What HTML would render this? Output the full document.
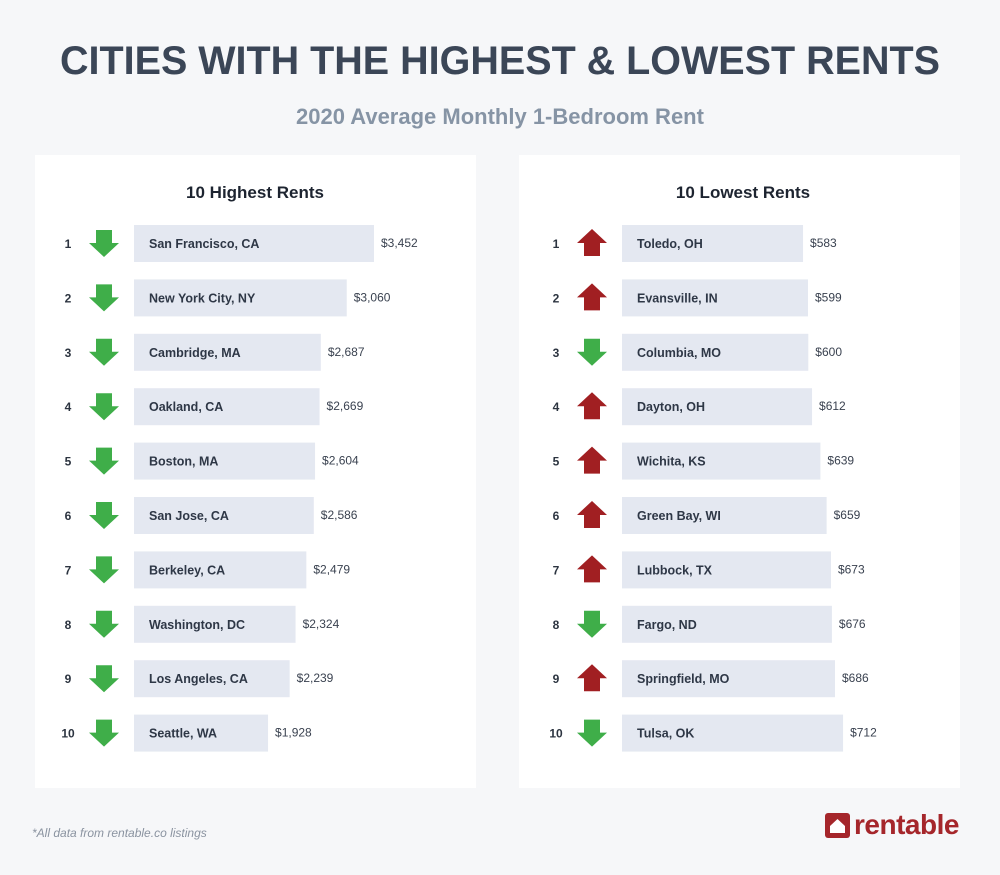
<!DOCTYPE html>
<html><head><meta charset="utf-8"><style>
body{margin:0;width:1000px;height:875px;background:#f6f7f9;font-family:"Liberation Sans",Arial,sans-serif;position:relative;overflow:hidden}
.t{position:absolute;left:0;width:1000px;text-align:center;font-weight:bold}
.panel{position:absolute;top:155px;width:441px;height:633px;background:#fff}
</style></head><body>
<div class="t" style="top:39px;font-size:39.5px;color:#3b4657">CITIES WITH THE HIGHEST &amp; LOWEST RENTS</div>
<div class="t" style="top:104px;font-size:22px;color:#8694a5">2020 Average Monthly 1-Bedroom Rent</div>
<div class="panel" style="left:35px"></div>
<div class="panel" style="left:519px"></div>
<div style="position:absolute;left:32px;top:826px;font-size:12px;font-style:italic;color:#8a93a0">*All data from rentable.co listings</div>
<div style="position:absolute;left:825px;top:812px;height:26px;display:flex;align-items:center">
<svg width="25" height="25" viewBox="0 0 25 25"><rect width="25" height="25" rx="3" fill="#a5262b"/><path d="M5 13 L12.5 6 L20 13 L20 20 L5 20Z" fill="#fff"/></svg>
<span style="font-size:28px;font-weight:bold;color:#a5262b;margin-left:4px;letter-spacing:-0.5px">rentable</span></div>
<svg id="c" width="1000" height="875" style="position:absolute;left:0;top:0"></svg>
<script>
const hiCities=["San Francisco, CA","New York City, NY","Cambridge, MA","Oakland, CA","Boston, MA","San Jose, CA","Berkeley, CA","Washington, DC","Los Angeles, CA","Seattle, WA"];
const hiValues=[3452,3060,2687,2669,2604,2586,2479,2324,2239,1928];
const hiDir=["down","down","down","down","down","down","down","down","down","down"];
const loCities=["Toledo, OH","Evansville, IN","Columbia, MO","Dayton, OH","Wichita, KS","Green Bay, WI","Lubbock, TX","Fargo, ND","Springfield, MO","Tulsa, OK"];
const loValues=[583,599,600,612,639,659,673,676,686,712];
const loDir=["up","up","down","up","up","up","up","down","up","down"];
const svg=document.getElementById('c');const NS="http://www.w3.org/2000/svg";
function mk(t,a,p){const e=document.createElementNS(NS,t);for(const k in a)e.setAttribute(k,a[k]);(p||svg).appendChild(e);return e;}
function rowY(i){return 243+i*54.4;}
function panel(ox,title,cities,vals,dirs,scale,key){
 const h=mk('text',{x:ox+220,y:198,'text-anchor':'middle','font-size':17,'font-weight':'bold',fill:'#1d2430'});h.textContent=title;
 
 
 const x0=ox+99;
 cities.forEach((c,i)=>{const y=rowY(i);const w=vals[i]*scale;
  const n=mk('text',{x:ox+33,y:y+5,'text-anchor':'middle','font-size':12,'font-weight':'bold',fill:'#2c3440'});n.textContent=i+1;
  
  
  const cx=ox+69;let d,col;
  if(dirs[i]=="down"){d=`M${cx-8} ${y-13}h16v13h7l-15 14l-15-14h7z`;col='#3fae49';}
  else{d=`M${cx-8} ${y+13}h16v-13h7l-15-14l-15 14h7z`;col='#a11f22';}
  const a=mk('path',{d:d,fill:col});
  
  
  const r=mk('rect',{x:x0,y:y-18,width:w,height:37,fill:'#e4e8f1'});
  
  
  const t=mk('text',{x:x0+15,y:y+5,'font-size':12.5,'font-weight':'bold',fill:'#2e3746'});t.textContent=c;
  
  
  const v=mk('text',{x:x0+w+7,y:y+4,'font-size':12,fill:'#3a4250'});v.textContent='$'+vals[i].toLocaleString('en-US');
  
  
 });
}
panel(35,"10 Highest Rents",hiCities,hiValues,hiDir,240/3452,'highest');
panel(523,"10 Lowest Rents",loCities,loValues,loDir,0.3105,'lowest');
</script>
</body></html>
